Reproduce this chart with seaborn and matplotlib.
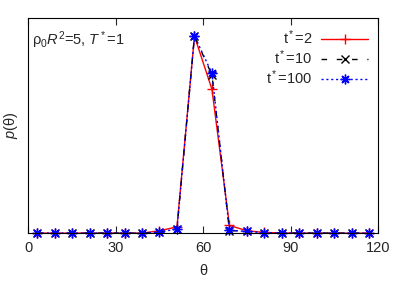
import numpy as np
import pandas as pd
import matplotlib
matplotlib.use("Agg")
import matplotlib.pyplot as plt
import seaborn as sns

theta = [3, 9, 15, 21, 27, 33, 39, 45, 51, 57, 63, 69, 75, 81, 87, 93, 99, 105, 111, 117]
p_t2 = [0, 0, 0, 0, 0, 0, 0, 0.011, 0.029, 0.917, 0.669, 0.036, 0.011, 0.003, 0.001, 0, 0, 0, 0, 0]
p_t10 = [0, 0, 0, 0, 0, 0, 0, 0.006, 0.020, 0.917, 0.736, 0.012, 0.008, 0.002, 0.001, 0, 0, 0, 0, 0]
p_t100 = [0, 0, 0, 0, 0, 0, 0, 0.005, 0.019, 0.917, 0.744, 0.013, 0.008, 0.002, 0.001, 0, 0, 0, 0, 0]
labels = [r"t$^*$=2", r"t$^*$=10", r"t$^*$=100"]
xticks = [0, 30, 60, 90, 120]

sns.set_style("ticks")
plt.rcParams["font.family"] = ["Liberation Sans", "DejaVu Sans"]
plt.rcParams["mathtext.fontset"] = "custom"
plt.rcParams["mathtext.rm"] = "Liberation Sans"
plt.rcParams["mathtext.it"] = "Liberation Sans:italic"

fig = plt.figure(figsize=(4.07, 2.85), dpi=100)
ax = fig.add_axes([0.0696, 0.182, 0.929 - 0.0696, 0.936 - 0.182])

styles = [
    dict(color="#ff0000", marker="+", linestyle="-", markersize=7),
    dict(color="#000000", marker="x", linestyle=(0, (4, 7)), markersize=5.5),
    dict(color="#0000ff", marker=(8, 2, 0), linestyle=(0, (1.5, 2)), markersize=7),
]
for vals, lab, st in zip([p_t2, p_t10, p_t100], labels, styles):
    df = pd.DataFrame({"theta": theta, "p": vals})
    sns.lineplot(data=df, x="theta", y="p", ax=ax, label=lab, lw=1.0, clip_on=False,
                 markeredgecolor=st["color"], markeredgewidth=1.0, **st)

ax.set_xlim(0, 120)
ax.set_ylim(0, 1.0)
ax.set_xticks(xticks)
ax.set_yticks([])
ax.tick_params(axis="x", direction="in", top=True, bottom=True, length=5, width=0.8, labelsize=10.5, pad=6)
for s in ax.spines.values():
    s.set_visible(True)
    s.set_linewidth(0.8)
    s.set_color("black")
ax.set_xlabel("θ", fontsize=10.5, labelpad=6)
ax.set_ylabel(r"$p$(θ)", fontsize=10.5, labelpad=6)
ax.text(0.01, 0.9, r"ρ$_0$$R^2$=5, $T^*$=1", transform=ax.transAxes, fontsize=10.5, ha="left", va="center")
ax.legend(loc="upper right", frameon=False, markerfirst=False, fontsize=10.5,
          handlelength=3.2, numpoints=1, labelspacing=0.1, borderaxespad=0.3, handletextpad=0.6)
fig.savefig("out.png", dpi=100)
